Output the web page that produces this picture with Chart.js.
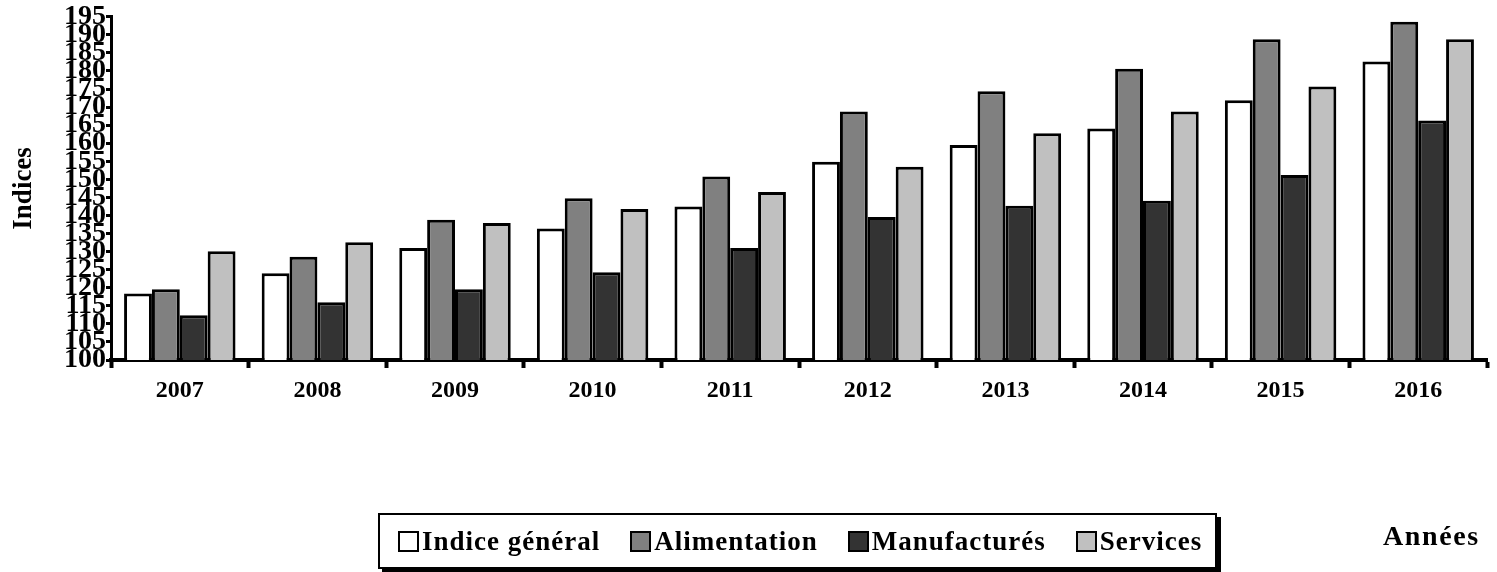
<!DOCTYPE html>
<html>
<head>
<meta charset="utf-8">
<script src="https://cdn.jsdelivr.net/npm/chart.js@4/dist/chart.umd.min.js"></script>
<style>
  html, body { margin: 0; padding: 0; background: #fff; }
  #wrap { position: relative; width: 1497px; height: 572px; }
  #legend {
    position: absolute; left: 378px; top: 513px; width: 817px; height: 52px;
    border: 2px solid #000; box-shadow: 4px 4px 0 #000; background: #fff;
    display: flex; align-items: center; padding-left: 18px; box-sizing: content-box;
    font-family: "Liberation Serif", "Times New Roman", serif; font-weight: bold; font-size: 27px;
    letter-spacing: 1.0px; white-space: nowrap; overflow: hidden;
  }
  .item { display: flex; align-items: center; margin-right: 30px; flex-shrink: 0; }
  .mk { width: 17px; height: 17px; border: 2px solid #000; margin-right: 3px; flex-shrink: 0; }
  #annees {
    position: absolute; left: 1383px; top: 520px;
    font-family: "Liberation Serif", "Times New Roman", serif; font-weight: bold; font-size: 28px;
    letter-spacing: 1.6px;
  }
</style>
</head>
<body>
<div id="wrap">
  <canvas id="c" width="1497" height="572"></canvas>
  <div id="legend"></div>
  <div id="annees">Années</div>
</div>
<script>
const categories = ["2007","2008","2009","2010","2011","2012","2013","2014","2015","2016"];
const seriesNames = ["Indice général","Alimentation","Manufacturés","Services"];
const indiceGeneral = [118.4,124.0,131.0,136.4,142.5,154.9,159.5,164.1,171.9,182.6];
const alimentation  = [119.6,128.6,138.8,144.8,150.8,168.8,174.4,180.6,188.8,193.6];
const manufactures  = [112.4,116.0,119.6,124.3,131.0,139.6,142.7,144.1,151.2,166.3];
const services      = [130.1,132.6,137.9,141.8,146.5,153.5,162.8,168.8,175.7,188.8];
const seriesColors  = ["#ffffff","#808080","#333333","#c0c0c0"];
const yTickValues = { min: 100, max: 195, step: 5 };

const serif = "'Liberation Serif', 'Times New Roman', serif";
const allSeries = [indiceGeneral, alimentation, manufactures, services];

const datasets = allSeries.map((vals, i) => ({
  label: seriesNames[i],
  data: vals,
  backgroundColor: seriesColors[i],
  borderColor: "#000",
  borderWidth: 3,
  borderSkipped: "bottom",
  categoryPercentage: 0.81,
  barPercentage: 1.0
}));

new Chart(document.getElementById("c"), {
  type: "bar",
  data: { labels: categories, datasets },
  options: {
    responsive: false,
    animation: false,
    layout: { padding: { left: 0, right: 10, top: 15, bottom: 162 } },
    plugins: { legend: { display: false }, tooltip: { enabled: false } },
    scales: {
      x: {
        grid: { offset: true, drawOnChartArea: false, drawTicks: true, tickLength: 8, tickWidth: 4, tickColor: "#000" },
        border: { display: true, color: "#000", width: 4 },
        ticks: { color: "#000", padding: 8, font: { family: serif, weight: "bold", size: 24 }, maxRotation: 0 },
        afterFit: s => { s.height = 50; }
      },
      y: {
        min: yTickValues.min, max: yTickValues.max,
        grid: { drawOnChartArea: false, drawTicks: true, tickLength: 5, tickWidth: 3, tickColor: "#000" },
        border: { display: true, color: "#000", width: 3 },
        ticks: { stepSize: yTickValues.step, autoSkip: false, color: "#000", padding: 0,
                 font: { family: serif, weight: "bold", size: 28 } },
        title: { display: true, text: "Indices", color: "#000", padding: { top: 8, bottom: 0 },
                 font: { family: serif, weight: "bold", size: 27 } },
        afterFit: s => { s.width = 111; }
      }
    }
  }
});

const lg = document.getElementById("legend");
seriesNames.forEach((n, i) => {
  const it = document.createElement("div"); it.className = "item";
  const mk = document.createElement("div"); mk.className = "mk"; mk.style.background = seriesColors[i];
  const tx = document.createElement("span"); tx.textContent = n;
  it.appendChild(mk); it.appendChild(tx); lg.appendChild(it);
});
</script>
</body>
</html>
